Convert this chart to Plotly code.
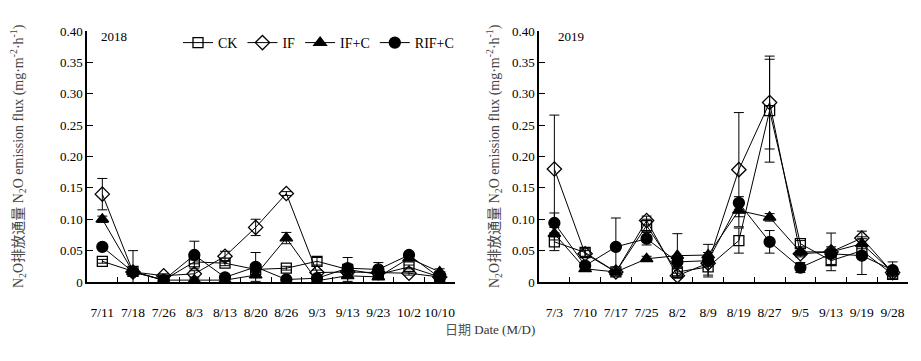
import plotly.graph_objects as go

dates_2018 = ["7/11", "7/18", "7/26", "8/3", "8/13", "8/20", "8/26", "9/3", "9/13", "9/23", "10/2", "10/10"]
dates_2019 = ["7/3", "7/10", "7/17", "7/25", "8/2", "8/9", "8/19", "8/27", "9/5", "9/13", "9/19", "9/28"]

ck_2018 = [0.033, 0.017, 0.003, 0.032, 0.030, 0.020, 0.022, 0.033, 0.020, 0.012, 0.024, 0.008]
if_2018 = [0.140, 0.016, 0.010, 0.013, 0.041, 0.087, 0.141, 0.015, 0.016, 0.015, 0.014, 0.008]
ifc_2018 = [0.100, 0.016, 0.003, 0.003, 0.003, 0.011, 0.070, 0.002, 0.010, 0.008, 0.038, 0.016]
rifc_2018 = [0.056, 0.016, 0.003, 0.043, 0.0075, 0.024, 0.004, 0.006, 0.022, 0.020, 0.043, 0.007]

ck_2018_err = [0.003, 0.033, 0.002, 0.003, 0.004, 0.003, 0.003, 0.006, 0.019, 0.004, 0.003, 0.002]
if_2018_err = [0.025, 0.003, 0.003, 0.005, 0.008, 0.013, 0.003, 0.004, 0.004, 0.004, 0.003, 0.002]
ifc_2018_err = [0.005, 0.003, 0.002, 0.002, 0.002, 0.004, 0.009, 0.002, 0.004, 0.003, 0.004, 0.005]
rifc_2018_err = [0.004, 0.003, 0.002, 0.022, 0.003, 0.023, 0.002, 0.003, 0.006, 0.011, 0.004, 0.002]

ck_2019 = [0.064, 0.047, 0.016, 0.090, 0.016, 0.024, 0.066, 0.273, 0.061, 0.034, 0.050, 0.012]
if_2019 = [0.180, 0.045, 0.016, 0.098, 0.010, 0.030, 0.179, 0.286, 0.045, 0.048, 0.070, 0.015]
ifc_2019 = [0.077, 0.021, 0.016, 0.037, 0.042, 0.043, 0.114, 0.103, 0.048, 0.048, 0.061, 0.016]
rifc_2019 = [0.094, 0.026, 0.056, 0.069, 0.032, 0.034, 0.126, 0.064, 0.023, 0.045, 0.042, 0.019]

ck_2019_err = [0.014, 0.006, 0.003, 0.010, 0.006, 0.013, 0.020, 0.082, 0.005, 0.006, 0.006, 0.008]
if_2019_err = [0.086, 0.005, 0.003, 0.007, 0.004, 0.005, 0.091, 0.074, 0.005, 0.008, 0.011, 0.006]
ifc_2019_err = [0.010, 0.004, 0.003, 0.004, 0.035, 0.004, 0.010, 0.006, 0.006, 0.030, 0.008, 0.005]
rifc_2019_err = [0.016, 0.004, 0.046, 0.010, 0.010, 0.026, 0.010, 0.018, 0.008, 0.006, 0.030, 0.013]

y_ticks = [0, 0.05, 0.10, 0.15, 0.20, 0.25, 0.30, 0.35, 0.40]
y_tick_text = ["0", "0.05", "0.10", "0.15", "0.20", "0.25", "0.30", "0.35", "0.40"]

names = ["CK", "IF", "IF+C", "RIF+C"]
symbols = ["square-open", "diamond-open", "triangle-up", "circle"]
sizes = [10, 11, 11, 11]

FONT = "Liberation Serif, Times New Roman, serif"

fig = go.Figure()

series_2018 = [(ck_2018, ck_2018_err), (if_2018, if_2018_err), (ifc_2018, ifc_2018_err), (rifc_2018, rifc_2018_err)]
series_2019 = [(ck_2019, ck_2019_err), (if_2019, if_2019_err), (ifc_2019, ifc_2019_err), (rifc_2019, rifc_2019_err)]

for i, (vals, err) in enumerate(series_2018):
    fig.add_trace(go.Scatter(
        x=dates_2018, y=vals, name=names[i], mode="lines+markers",
        line=dict(color="black", width=1),
        marker=dict(symbol=symbols[i], size=sizes[i], color="black", line=dict(color="black", width=1.3)),
        error_y=dict(type="data", array=err, color="black", thickness=1, width=5),
        xaxis="x", yaxis="y", showlegend=True, legendgroup=names[i],
    ))
for i, (vals, err) in enumerate(series_2019):
    fig.add_trace(go.Scatter(
        x=dates_2019, y=vals, name=names[i], mode="lines+markers",
        line=dict(color="black", width=1),
        marker=dict(symbol=symbols[i], size=sizes[i], color="black", line=dict(color="black", width=1.3)),
        error_y=dict(type="data", array=err, color="black", thickness=1, width=5),
        xaxis="x2", yaxis="y2", showlegend=False, legendgroup=names[i],
    ))

W, H = 921, 361
ydom = [1 - 282 / H, 1 - 31 / H]

common_x = dict(
    type="category", range=[-0.5, 11.5], showline=True, linecolor="black", linewidth=1.5,
    ticks="inside", tickson="boundaries", ticklen=5, tickcolor="black", tickwidth=1,
    showgrid=False, zeroline=False, tickangle=0, ticklabelstandoff=17, automargin=False,
    tickfont=dict(family=FONT, size=13.5, color="black"),
)
common_y = dict(
    range=[0, 0.40], tickvals=y_ticks, ticktext=y_tick_text, showline=True, linecolor="black",
    linewidth=1.5, ticks="inside", ticklen=6, tickcolor="black", tickwidth=1, showgrid=False,
    zeroline=False, automargin=False, tickfont=dict(family=FONT, size=13, color="black"),
)

fig.update_layout(
    width=W, height=H, margin=dict(l=0, r=0, t=0, b=0, autoexpand=False),
    paper_bgcolor="white", plot_bgcolor="white",
    font=dict(family=FONT, size=13, color="black"),
    xaxis=dict(common_x, domain=[87 / W, 455 / W], anchor="y"),
    yaxis=dict(common_y, domain=ydom, anchor="x"),
    xaxis2=dict(common_x, domain=[539 / W, 908 / W], anchor="y2"),
    yaxis2=dict(common_y, domain=ydom, anchor="x2"),
    legend=dict(orientation="h", x=178 / W, y=1 - 27 / H, xanchor="left", yanchor="top",
                font=dict(family=FONT, size=14, color="black"), bgcolor="rgba(0,0,0,0)",
                itemwidth=30, tracegroupgap=0),
    showlegend=True,
)

ytitle = "N<sub>2</sub>O<span style='font-family:Noto Sans CJK SC'>排放通量</span> N<sub>2</sub>O emission flux (mg·m<sup>-2</sup>·h<sup>-1</sup>)"
annotations = [
    dict(text=ytitle, x=17 / W, y=1 - 156 / H, xref="paper", yref="paper", textangle=-90,
         showarrow=False, font=dict(family=FONT, size=14, color="#444"), xanchor="center", yanchor="middle"),
    dict(text=ytitle, x=493 / W, y=1 - 156 / H, xref="paper", yref="paper", textangle=-90,
         showarrow=False, font=dict(family=FONT, size=14, color="#444"), xanchor="center", yanchor="middle"),
    dict(text="2018", x=99 / W, y=1 - 36 / H, xref="paper", yref="paper", showarrow=False,
         font=dict(family=FONT, size=13, color="black"), xanchor="left", yanchor="middle"),
    dict(text="2019", x=556 / W, y=1 - 36 / H, xref="paper", yref="paper", showarrow=False,
         font=dict(family=FONT, size=13, color="black"), xanchor="left", yanchor="middle"),
    dict(text="<span style='font-family:Noto Sans CJK SC;color:#555'>日期</span> Date (M/D)", x=490 / W, y=1 - 328 / H,
         xref="paper", yref="paper", showarrow=False,
         font=dict(family=FONT, size=13, color="#333"), xanchor="center", yanchor="middle"),
]
fig.update_layout(annotations=annotations)

fig.write_html("out.html", config={"displayModeBar": False},
               post_script="document.body.style.margin='0';document.body.style.overflow='hidden';")
